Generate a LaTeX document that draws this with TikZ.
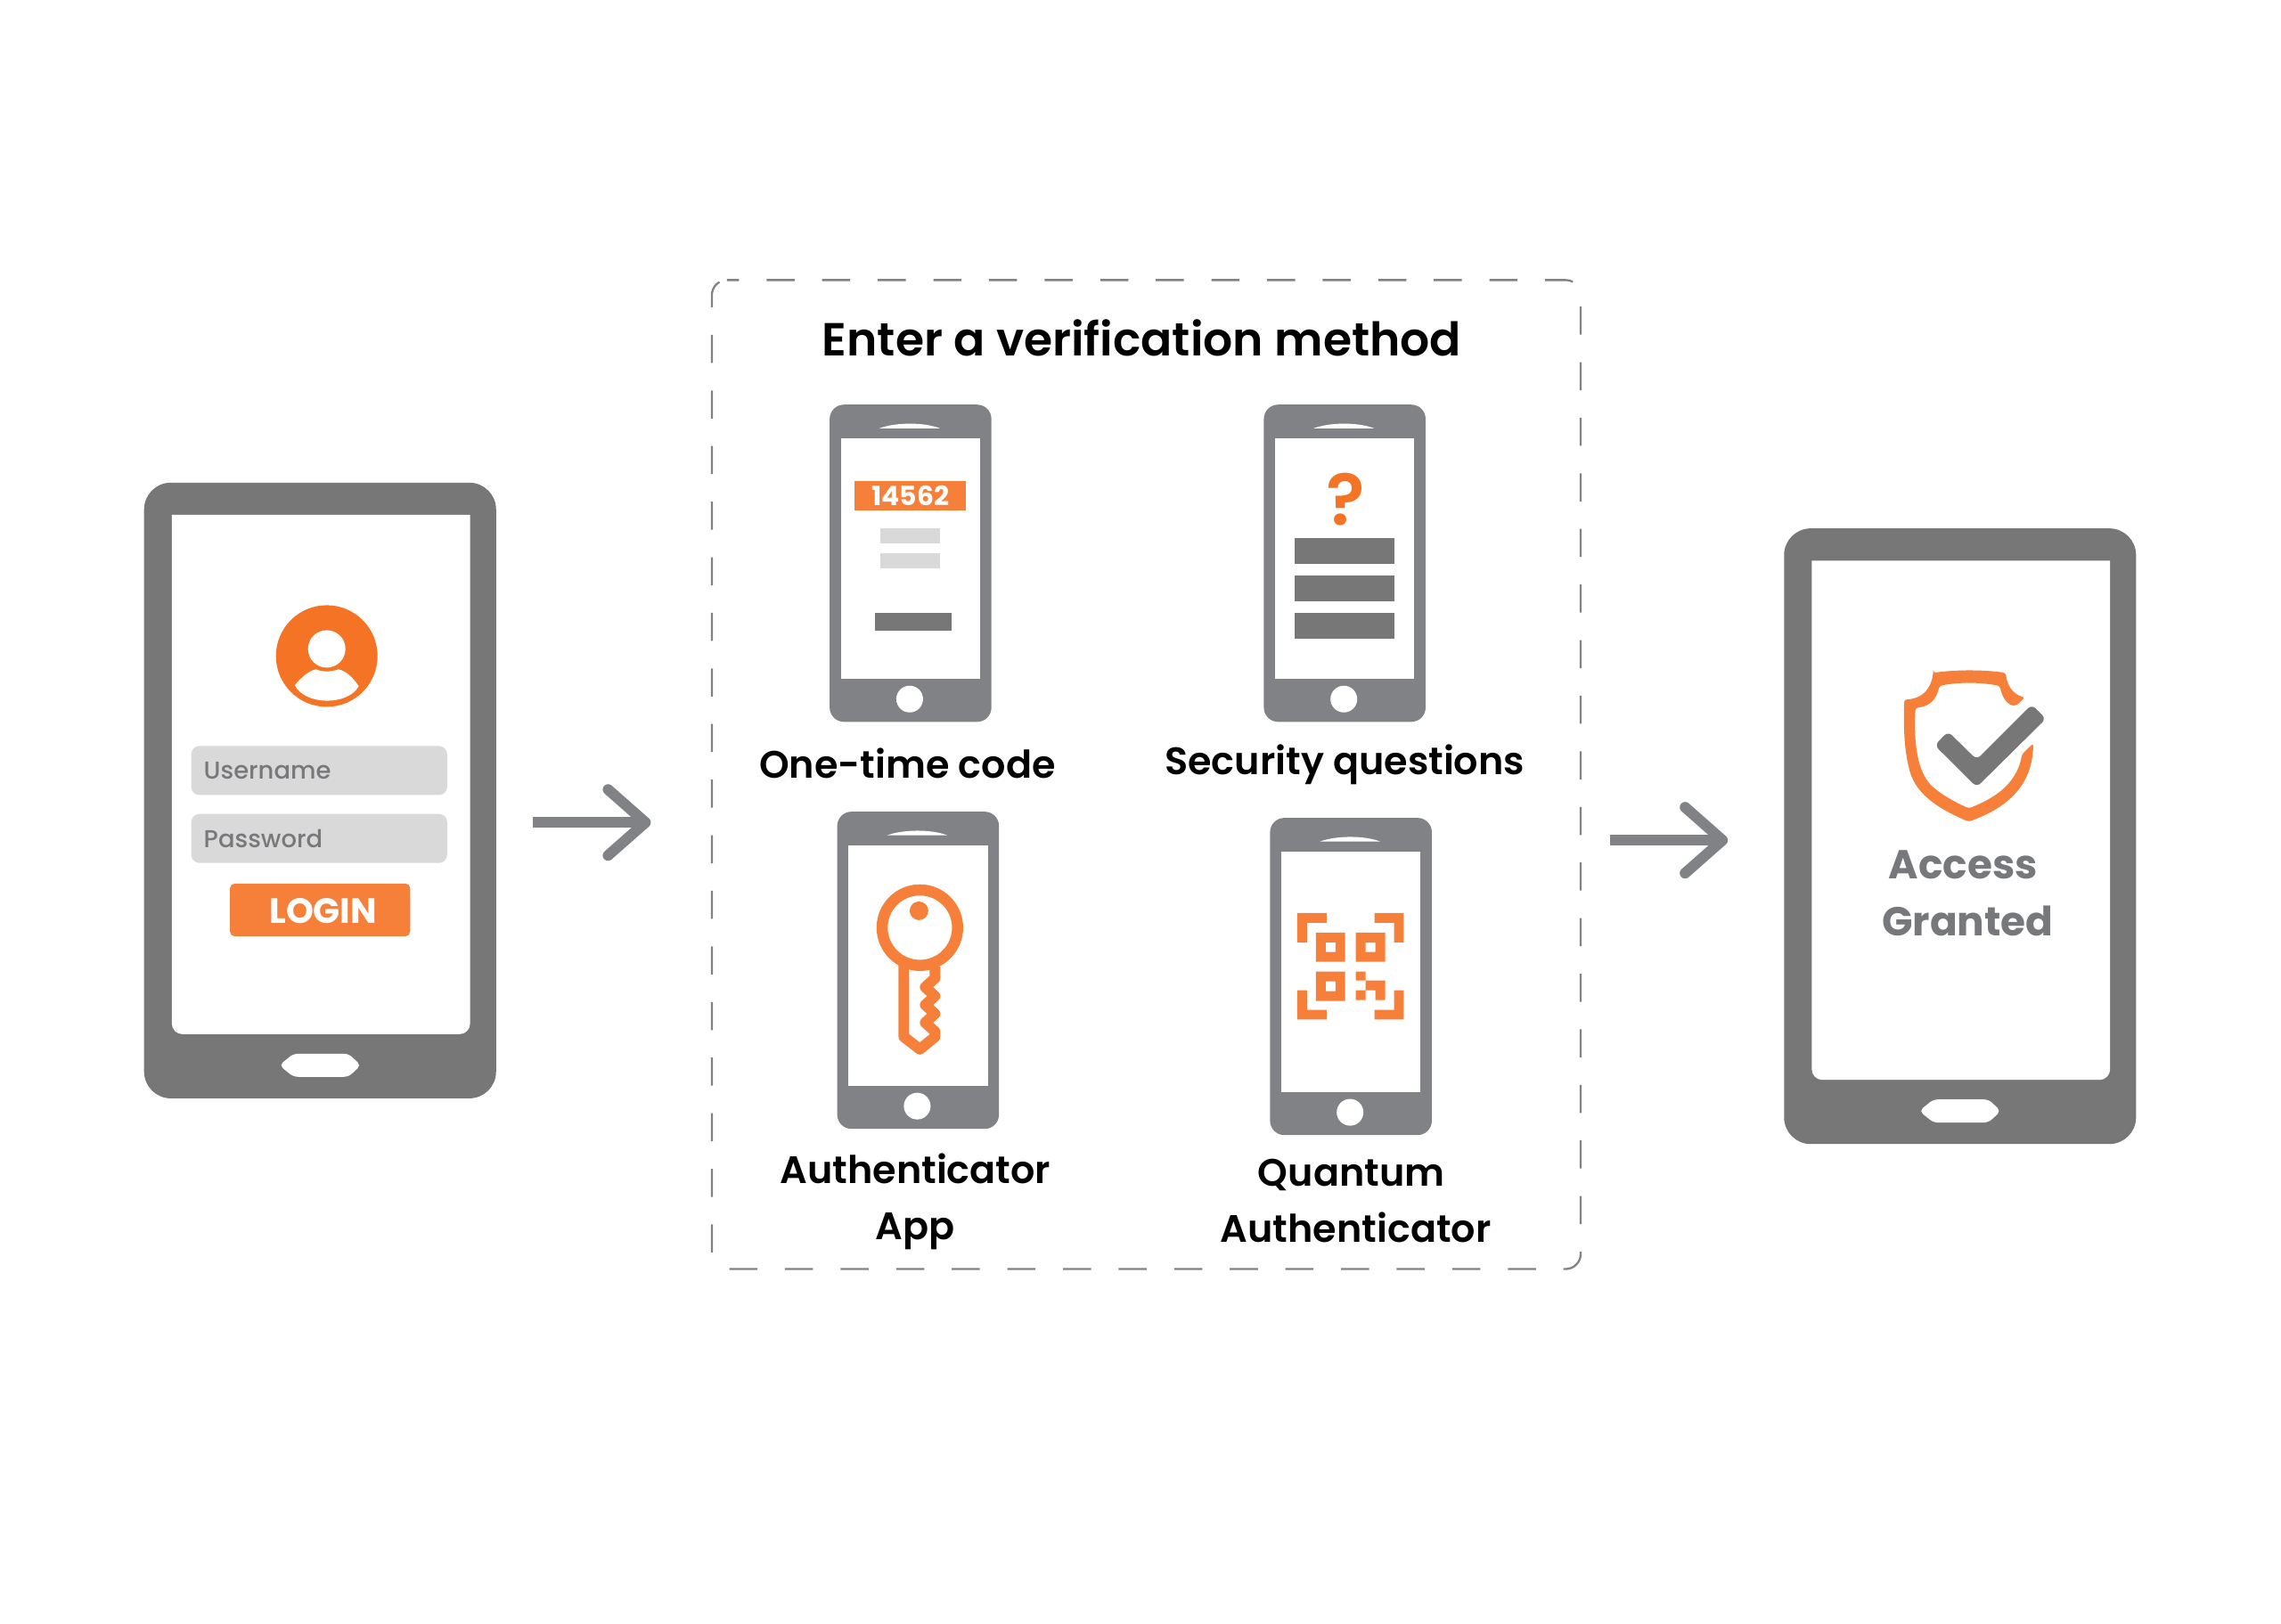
\documentclass[tikz,border=0pt]{standalone}
\usepackage{fontspec}
\setmainfont{Poppins Medium}[BoldFont=Poppins Bold]
\newfontfamily\headfont{Poppins SemiBold}
\usetikzlibrary{arrows.meta}
\definecolor{slab}{HTML}{777777}
\definecolor{handset}{HTML}{808285}
\definecolor{deeporange}{HTML}{F47324}
\definecolor{softorange}{HTML}{F6803A}
\definecolor{fieldgrey}{HTML}{D9D9D9}
\definecolor{inkgrey}{HTML}{77787B}

\begin{document}
\begin{tikzpicture}[
  x=0.009965cm, y=-0.009965cm,
  every node/.style={inner sep=0, outer sep=0},
  phone/.pic={
    \node (-body) [phonebody] at (91,178) {};
    \node (-screen) [panel, minimum width=15.65mm, minimum height=27mm] at (91,172.5) {};
    \node (-home) [panel, circle, minimum size=3mm] at (90,331) {};
    \fill[white] (56,26) .. controls (75,19) and (106,19) .. (124,26) -- cycle;
  },
  tablet/.pic={
    \node (-body) [tabletbody] at (198,346.5) {};
    \fill[white] (31,36) -- (367,36) [rounded corners=1.2mm] -- (367,621) -- (31,621) [sharp corners] -- cycle;
    \fill[white, rounded corners=0.5mm] (152,656) -- (168,643) -- (230,643) -- (244,656) -- (230,669) -- (168,669) -- cycle;
  }
]
\tikzstyle{phonebody}=[rectangle, fill=handset, rounded corners=1.6mm, minimum width=18.15mm, minimum height=35.6mm]
\tikzstyle{tabletbody}=[rectangle, fill=slab, rounded corners=3mm, minimum width=39.5mm, minimum height=69.1mm]
\tikzstyle{panel}=[rectangle, fill=white]
\tikzstyle{flow}=[draw=handset, line width=1.2mm, -{Straight Barb[length=4.2mm, width=7.4mm, round]}]
\tikzstyle{field}=[rectangle, fill=fieldgrey, rounded corners=0.9mm, minimum height=5.5mm, text width=25.9mm, inner xsep=1.4mm, text=inkgrey, font=\fontsize{7.8}{10}\selectfont]
\tikzstyle{caption}=[text=black, align=center, font=\headfont\fontsize{12.2}{17.9}\selectfont]
\tikzstyle{blockbar}=[rectangle, fill=slab, minimum width=11.2mm, minimum height=2.9mm]
\tikzstyle{paleline}=[rectangle, fill=fieldgrey, minimum width=6.7mm, minimum height=1.7mm]
\tikzstyle{boxedge}=[draw=handset, line width=0.23mm, rounded corners=1.7mm, dash pattern=on 3.15mm off 3.09mm, dash phase=1.8mm]

% outer devices
\pic (signin) at (162.5,544) {tablet};
\pic (granted) at (2009.5,595.5) {tablet};

% login screen
\node (avatar) [circle, fill=deeporange, minimum size=11.4mm] at (368,739) {};
\node (head) [circle, fill=white, minimum size=4.2mm] at (368,731) {};
\fill[white] (332,772) .. controls (340,762) and (349,755) .. (356,754)
  .. controls (362,757) and (374,757) .. (381,754)
  .. controls (388,755) and (397,762) .. (404,773)
  .. controls (392,795) and (344,795) .. (332,772) -- cycle;
\node (username) [field] at (359.5,868) {Username};
\node (password) [field] at (359.5,944.5) {Password};
\node (login) [rectangle, fill=softorange, rounded corners=0.5mm, minimum width=20.2mm, minimum height=5.9mm] at (360.5,1025) {};
\node (logintext) [text=white, font=\fontsize{11.2}{12}\selectfont\bfseries] at (364,1026) {LOGIN};

% verification box
\node (verify) [rectangle, minimum width=97.5mm, minimum height=111mm] at (1291,872.5) {};
\draw[boxedge] ([xshift=1.7mm]verify.north west) -- (verify.north east) -- (verify.south east) -- (verify.south west) -- (verify.north west) -- ([xshift=1.7mm]verify.north west);
\node (title) [caption, font=\headfont\fontsize{14.8}{18}\selectfont] at (1286,381) {Enter a verification method};

\pic (otp) at (934.5,456.5) {phone};
\pic (quiz) at (1423.5,456.5) {phone};
\pic (keyapp) at (943,915) {phone};
\pic (quantum) at (1430.5,922) {phone};

\node (otpcode) [rectangle, fill=softorange, text=white, minimum width=12.5mm, minimum height=3.3mm, font=\fontsize{8.5}{10}\selectfont\bfseries] at (1025.5,558.5) {14562};
\foreach \y/\n in {604/a, 632/b}
  \node (otpline\n) [paleline] at (1025.5,\y) {};
\node (otpbar) [blockbar, minimum width=8.6mm, minimum height=2mm] at (1029,700.5) {};

\node (mark) [text=deeporange, font=\headfont\fontsize{23}{24}\selectfont] at (1516,562.5) {?};
\foreach \y/\n in {620.5/a, 662.5/b, 704.5/c}
  \node (quizbar\n) [blockbar] at (1514.5,\y) {};

\node (otplabel) [caption] at (1022,860) {One-time code};
\node (quizlabel) [caption] at (1514.5,861) {Security questions};
\node (keylabel) [caption] at (1031,1354) {Authenticator\\App};
\node (quantumlabel) [caption] at (1527,1353) {Quantum\hspace*{1mm}\\Authenticator};

% key
\draw[softorange, line width=1.25mm] (1036,1045) circle (42.5);
\fill[softorange] (1035,1026) circle (10.5);
\draw[softorange, line width=1.2mm, line join=round] (1018,1087) -- (1018,1168) -- (1036,1182) -- (1053,1168) -- (1053,1162) -- (1042,1152) -- (1053,1142) -- (1042,1132) -- (1053,1122) -- (1042,1112) -- (1053,1102) -- (1053,1089);

% qr code
\foreach \sx/\sy in {1/1, -1/1, 1/-1, -1/-1}
  \fill[softorange, shift={(1521,1088.5)}, xscale=\sx, yscale=\sy]
    (-60,-60) -- (-27,-60) -- (-27,-49) -- (-49,-49) -- (-49,-27) -- (-60,-27) -- cycle;
\foreach \qx/\qy/\n in {1482/1050.5/a, 1527/1050.5/b, 1482/1094.5/c}
  \path[fill=softorange, even odd rule] (\qx,\qy) rectangle ++(33,33) (\qx+11,\qy+11) rectangle ++(11,11);
\fill[softorange] (1527,1094.5) rectangle (1538,1104.5) (1538,1104.5) rectangle (1560,1115.5)
  (1549,1115.5) rectangle (1560,1126.5) (1527,1115.5) rectangle (1538,1126.5);

% shield
\begin{scope}[shift={(2009,584)}, scale=0.3333]
  \fill[softorange, rounded corners=0.3mm] (505,522) .. controls (580,511) and (675,511) .. (750,522)
    .. controls (755,565) and (775,595) .. (815,605) -- (785,633)
    .. controls (755,630) and (738,605) .. (730,566)
    .. controls (660,553) and (590,553) .. (526,566)
    .. controls (515,610) and (495,635) .. (445,640)
    .. controls (440,720) and (445,810) .. (475,870)
    .. controls (500,915) and (560,950) .. (625,980)
    .. controls (700,950) and (785,905) .. (805,797) -- (843,760)
    .. controls (840,900) and (760,975) .. (625,1025)
    .. controls (520,980) and (440,930) .. (420,830)
    .. controls (405,760) and (405,680) .. (407,612)
    .. controls (465,610) and (495,580) .. (505,522) -- cycle;
  \fill[slab, rounded corners=0.6mm] (555,720) -- (652,815) -- (838,629) -- (886,677) -- (652,908) -- (510,767) -- cycle;
\end{scope}
\node (access) [caption, text=inkgrey, font=\fontsize{12.9}{18.2}\selectfont\bfseries] at (2216,1006) {Access\hspace*{1mm}\\Granted};

% connectors
\coordinate (leavelogin) at (600,926.5);
\coordinate (enterbox) at (733,926.5);
\coordinate (leavebox) at (1813,946.5);
\coordinate (enterdone) at (1946,946.5);
\draw[flow] (leavelogin) -- (enterbox);
\draw[flow] (leavebox) -- (enterdone);

\useasboundingbox (0,0) rectangle (2569,1829.4);
\end{tikzpicture}
\end{document}
